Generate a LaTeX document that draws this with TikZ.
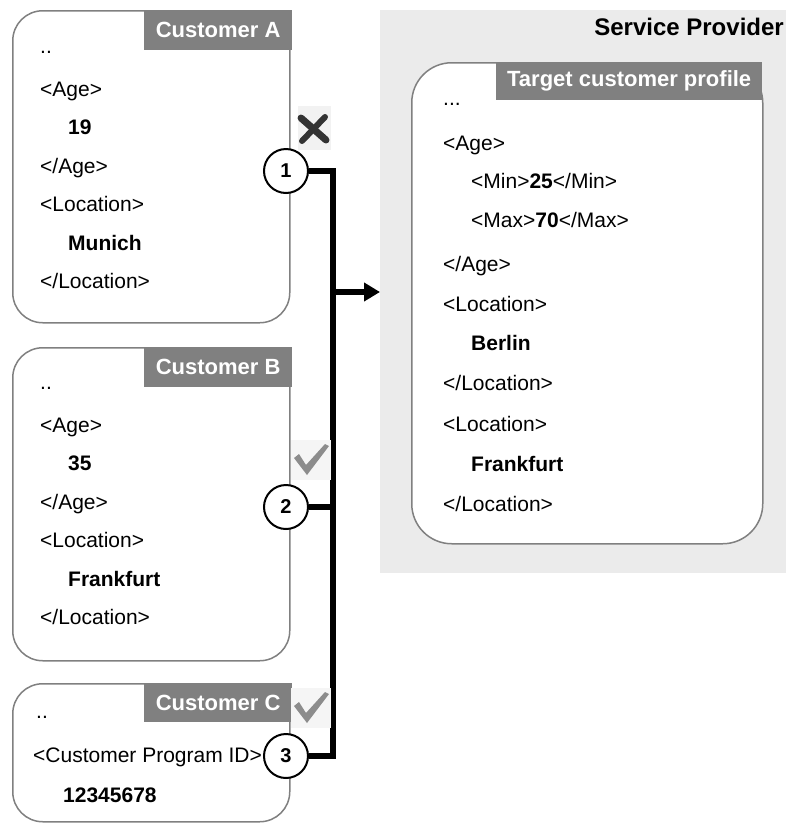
\documentclass[tikz,border=0pt]{standalone}
\usepackage{fontspec}
\setmainfont{Liberation Sans}
\usetikzlibrary{arrows.meta}

\begin{document}
\begin{tikzpicture}[yscale = -1, x = 1pt, y = 1pt,
	kunde/.style = {draw = gray, line width = 1.5pt, rounded corners = 30pt, fill = white, inner sep = 0pt, anchor = north west},
	kopf/.style = {fill = gray, text = white, font = \fontsize{22}{26}\selectfont\bfseries, inner sep = 0pt, anchor = north west},
	kreis/.style = {circle, draw, line width = 2pt, fill = white, minimum size = 44pt, inner sep = 0pt, font = \fontsize{20}{24}\selectfont\bfseries},
	haken/.style = {fill = gray!90},
	font = \fontsize{21}{25}\selectfont]
	\useasboundingbox (0, 0) rectangle (786, 823);

	% Dienstanbieter
	\node [fill = black!8, minimum width = 406pt, minimum height = 563pt, inner sep = 0pt, anchor = north west] (sp) at (380, 10) {};
	\node [anchor = base east, inner sep = 0pt, font = \fontsize{24}{28}\selectfont\bfseries] (spname) at (784, 35) {Service Provider};

	% Kunden
	\node [kunde, minimum width = 277pt, minimum height = 312pt] (kundeA) at (12, 10) {};
	\node [kunde, minimum width = 277pt, minimum height = 313pt] (kundeB) at (12, 347) {};
	\node [kunde, minimum width = 277pt, minimum height = 138pt] (kundeC) at (12, 683) {};
	\node [kunde, minimum width = 351pt, minimum height = 481pt, rounded corners = 40pt] (profil) at (411, 62) {};

	\node [kopf, minimum width = 148pt, minimum height = 40pt] (kopfA) at (144, 10) {Customer A};
	\node [kopf, minimum width = 148pt, minimum height = 40pt] (kopfB) at (144, 347) {Customer B};
	\node [kopf, minimum width = 148pt, minimum height = 39pt] (kopfC) at (144, 683) {Customer C};
	\node [kopf, minimum width = 266pt, minimum height = 38pt] (kopfP) at (496, 62) {Target customer profile};

	\begin{scope}[anchor = base west, inner sep = 0pt]
		% Kunde A
\node (a1) at (40, 53) {..};
\node (a2) at (40, 96) {<Age>};
\node (a3) at (68, 134.5) {\bfseries 19};
\node (a4) at (40, 173) {</Age>};
\node (a5) at (40, 211.5) {<Location>};
\node (a6) at (68, 250) {\bfseries Munich};
\node (a7) at (40, 288.5) {</Location>};

% Kunde B
\node (b1) at (40, 389) {..};
\node (b2) at (40, 432) {<Age>};
\node (b3) at (68, 470.5) {\bfseries 35};
\node (b4) at (40, 509) {</Age>};
\node (b5) at (40, 547.5) {<Location>};
\node (b6) at (68, 586) {\bfseries Frankfurt};
\node (b7) at (40, 624.5) {</Location>};

% Kunde C
\node (c1) at (36, 718) {..};
\node (c2) at (33, 762) {<Customer Program ID>};
\node (c3) at (63, 802) {\bfseries 12345678};

% Profil
\node (p1) at (443, 105) {...};
\node (p2) at (443, 150) {<Age>};
\node (p3) at (471, 188) {<Min>\textbf{25}</Min>};
\node (p4) at (471, 227) {<Max>\textbf{70}</Max>};
\node (p5) at (443, 271) {</Age>};
\node (p6) at (443, 311) {<Location>};
\node (p7) at (471, 350) {\bfseries Berlin};
\node (p8) at (443, 390) {</Location>};
\node (p9) at (443, 431) {<Location>};
\node (p10) at (471, 471) {\bfseries Frankfurt};
\node (p11) at (443, 511) {</Location>};
	\end{scope}

	% Abgleich
	\node [kreis] (n1) at (286, 171) {1};
	\node [kreis] (n2) at (286, 507) {2};
	\node [kreis] (n3) at (286, 756) {3};
	\coordinate (bus) at (333, 171);
	\coordinate (abzweig) at (333, 292);
	\begin{scope}[line width = 6pt]
		\draw (n1.east) -- (n1.east -| bus) -- (n3.east -| bus) -- (n3.east);
		\draw (n2.east) -- (n2.east -| bus);
		\draw [-{Triangle[length = 16pt, width = 18pt]}] (abzweig) -- (abzweig -| sp.west);
	\end{scope}

	% Ergebnis
	\fill [black!5] (298, 106) rectangle (331, 150);
	\draw [black!80, line width = 7pt, line cap = round] (301, 118) -- (326, 140);
	\draw [black!80, line width = 6pt, line cap = round] (325, 117) -- (302, 141);
	\foreach \y in {445, 693} {
		\fill [black!4] (291, \y - 5) rectangle (331, \y + 35);
		\fill [haken] (294, \y + 13) -- (299, \y + 9) -- (306, \y + 20) -- (325, \y - 1) -- (329, \y + 1) -- (307, \y + 30) -- cycle;
	}
\end{tikzpicture}
\end{document}
